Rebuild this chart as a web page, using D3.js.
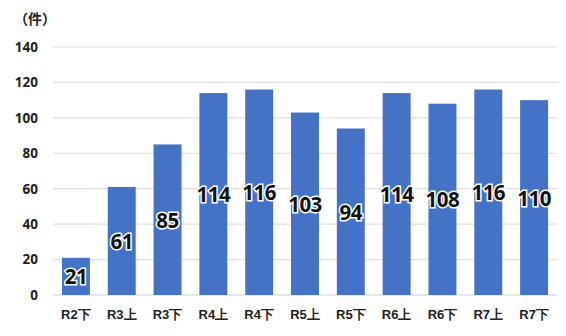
<!DOCTYPE html>
<html><head><meta charset="utf-8">
<script src="https://cdn.jsdelivr.net/npm/d3@7"></script>
<style>
body{margin:0;background:#fff;}
svg{display:block;font-family:"Noto Sans CJK JP","Noto Sans",sans-serif;}
</style></head><body>
<svg id="c" width="566" height="336"></svg>
<script>
const categories = ["R2下","R3上","R3下","R4上","R4下","R5上","R5下","R6上","R6下","R7上","R7下"];
const values = [21,61,85,114,116,103,94,114,108,116,110];
const yTicks = [0,20,40,60,80,100,120,140];
const unitLabel = "（件）";

const svg = d3.select("#c");
const m = {left:53, right:9, top:47, bottom:41};
const W = 566, H = 336;
const x = d3.scaleBand().domain(categories).range([m.left, W - m.right]).paddingInner(0.39).paddingOuter(0.195);
const y = d3.scaleLinear().domain([0,140]).range([H - m.bottom, m.top]);

// gridlines
svg.append("g").selectAll("line").data(yTicks).join("line")
  .attr("x1", m.left).attr("x2", W - m.right)
  .attr("y1", d => y(d)).attr("y2", d => y(d))
  .attr("stroke", d => d === 0 ? "#d0d0d0" : "#e0e0e0").attr("stroke-width", 1.2);

// y axis labels
const yAxis = d3.axisLeft(y).tickValues(yTicks).tickSize(0).tickPadding(0);
const gy = svg.append("g").attr("transform", `translate(${38},0)`).call(yAxis);
gy.select(".domain").remove();
gy.selectAll("text").attr("font-size", 13.5).attr("font-weight", "bold").attr("fill", "#222")
  .attr("font-family", "'Open Sans','Noto Sans',sans-serif");

// x axis labels
const xAxis = d3.axisBottom(x).tickSize(0).tickPadding(0);
const gx = svg.append("g").attr("transform", `translate(0,${H - m.bottom + 15})`).call(xAxis);
gx.select(".domain").remove();
gx.selectAll("text").attr("font-size", 13).attr("font-weight", "bold").attr("fill", "#222");

// bars
svg.append("g").selectAll("rect").data(values).join("rect")
  .attr("x", (d,i) => x(categories[i]))
  .attr("y", d => y(d))
  .attr("width", x.bandwidth())
  .attr("height", d => y(0) - y(d))
  .attr("fill", "#4472C4");

// value labels
svg.append("g").selectAll("text").data(values).join("text")
  .attr("x", (d,i) => x(categories[i]) + x.bandwidth()/2)
  .attr("y", d => (y(d) + y(0))/2)
  .attr("text-anchor", "middle").attr("dominant-baseline", "central")
  .attr("font-family", "'Open Sans','Noto Sans',sans-serif")
  .attr("font-size", 20.5).attr("font-weight", "bold")
  .attr("fill", "#111").attr("stroke", "#fff").attr("stroke-width", 3)
  .attr("paint-order", "stroke").attr("letter-spacing", -0.5)
  .text(d => d);

// unit label
svg.append("text").attr("x", 14).attr("y", 24)
  .attr("font-size", 14).attr("font-weight", "bold").attr("fill", "#222")
  .text(unitLabel);
</script>
</body></html>
